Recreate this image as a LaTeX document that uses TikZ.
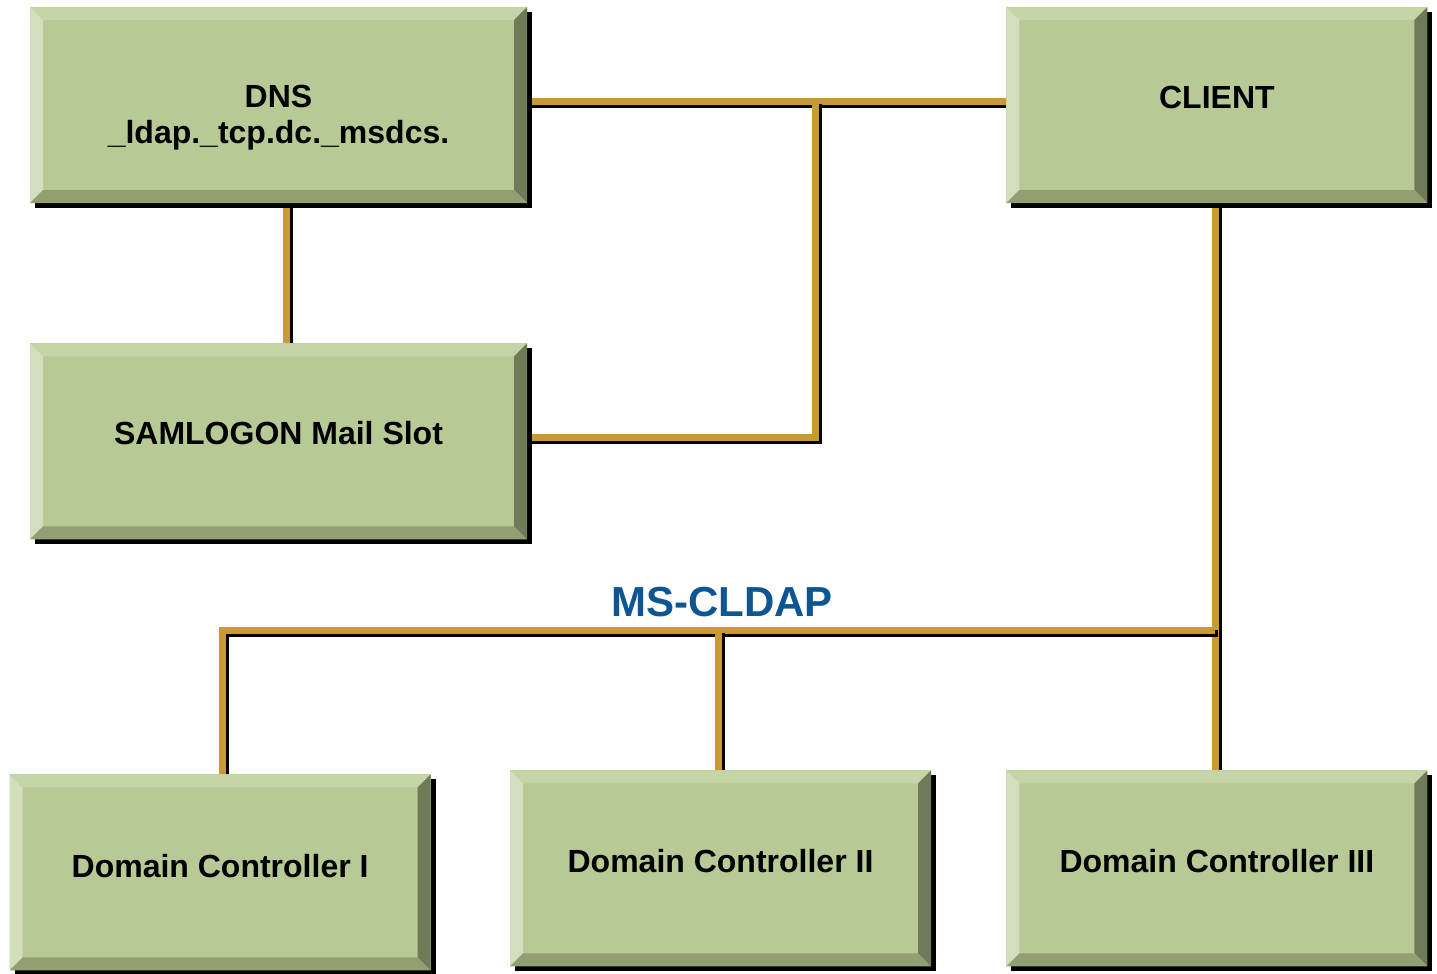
\documentclass[tikz,border=0pt]{standalone}
\usepackage{fontspec}
\setmainfont{Liberation Sans}
\usetikzlibrary{positioning,shadows,backgrounds}

\definecolor{face}{HTML}{B7C994}
\definecolor{bevtop}{HTML}{C5D5A8}
\definecolor{bevleft}{HTML}{D3DEBC}
\definecolor{bevright}{HTML}{6F7A58}
\definecolor{bevbottom}{HTML}{929F73}
\definecolor{wiregold}{HTML}{C99A31}
\definecolor{cldapblue}{HTML}{0E5593}

\newlength{\bw}
\setlength{\bw}{13pt}
% move a label up or down without changing its box
\newcommand{\liftby}[2]{\raisebox{#1}[\height][\depth]{#2}}

\tikzset{
  panel/.style={rectangle, fill=face, inner sep=0pt, align=center,
    font=\fontsize{32}{36}\selectfont\bfseries,
    drop shadow={shadow xshift=5pt, shadow yshift=-5pt, fill=black, opacity=1},
    path picture={
      \coordinate (nw) at (path picture bounding box.north west);
      \coordinate (se) at (path picture bounding box.south east);
      \coordinate (ne) at (se |- nw);
      \coordinate (sw) at (nw |- se);
      \fill[bevtop] (nw) -- (ne) -- ([shift={(-\bw,-\bw)}]ne) -- ([shift={(\bw,-\bw)}]nw) -- cycle;
      \fill[bevleft] (nw) -- ([shift={(\bw,-\bw)}]nw) -- ([shift={(\bw,\bw)}]sw) -- (sw) -- cycle;
      \fill[bevright] (ne) -- (se) -- ([shift={(-\bw,\bw)}]se) -- ([shift={(-\bw,-\bw)}]ne) -- cycle;
      \fill[bevbottom] (sw) -- (se) -- ([shift={(-\bw,\bw)}]se) -- ([shift={(\bw,\bw)}]sw) -- cycle;
    }},
  wire/.style={draw=wiregold, line width=7pt,
    preaction={draw=black, line width=7pt, transform canvas={shift={(3pt,-3pt)}}}}
}

\begin{document}
\begin{tikzpicture}[x=1pt,y=-1pt,node distance=140pt]

  \useasboundingbox (0,0) rectangle (1437,974);

  \node[panel,minimum width=497pt,minimum height=196pt] (dns) at (278.5,105)
    {\liftby{-13pt}{\begin{tabular}{@{}c@{}}DNS\\\_ldap.\_tcp.dc.\_msdcs.\end{tabular}}};
  \node[panel,minimum width=497pt,minimum height=196pt] (samlogon) [below=of dns]
    {\liftby{8pt}{SAMLOGON Mail Slot}};
  \node[panel,minimum width=421pt,minimum height=196pt] (client) [right=479pt of dns]
    {\liftby{8pt}{CLIENT}};

  \node[panel,minimum width=421pt,minimum height=196pt] (dcthree) [below=567pt of client]
    {\liftby{7pt}{Domain Controller III}};
  \node[panel,minimum width=421pt,minimum height=196pt] (dctwo) [left=75pt of dcthree]
    {\liftby{7pt}{Domain Controller II}};
  \node[panel,minimum width=421pt,minimum height=196pt] (dcone) [left=79pt of dctwo, yshift=-4pt]
    {\liftby{6pt}{Domain Controller I}};

  \coordinate (upjoin) at (815,101);
  \coordinate (bus) at (1215,630);

  \node[text=cldapblue, font=\fontsize{42}{42}\selectfont\bfseries] (cldap) at (722,602) {MS-CLDAP};

  \begin{scope}[on background layer]
    \draw[wire] ([yshift=4pt]dns.east) -- ([yshift=4pt]client.west);
    \draw[wire] ([xshift=8pt]dns.south) -- ([xshift=8pt]samlogon.north);
    \draw[wire] ([yshift=4pt]samlogon.east) -- ([yshift=4pt]samlogon.east -| upjoin) -- (upjoin);
    \draw[wire] ([xshift=-1.5pt]client.south) -- ([xshift=-1.5pt]dcthree.north);
    \draw[wire] ([xshift=2pt]dcone.north) -- ([xshift=2pt]dcone.north |- bus) -- (bus);
    \draw[wire] ([xshift=-2pt]dctwo.north) -- ([xshift=-2pt]dctwo.north |- bus);
  \end{scope}

\end{tikzpicture}
\end{document}
